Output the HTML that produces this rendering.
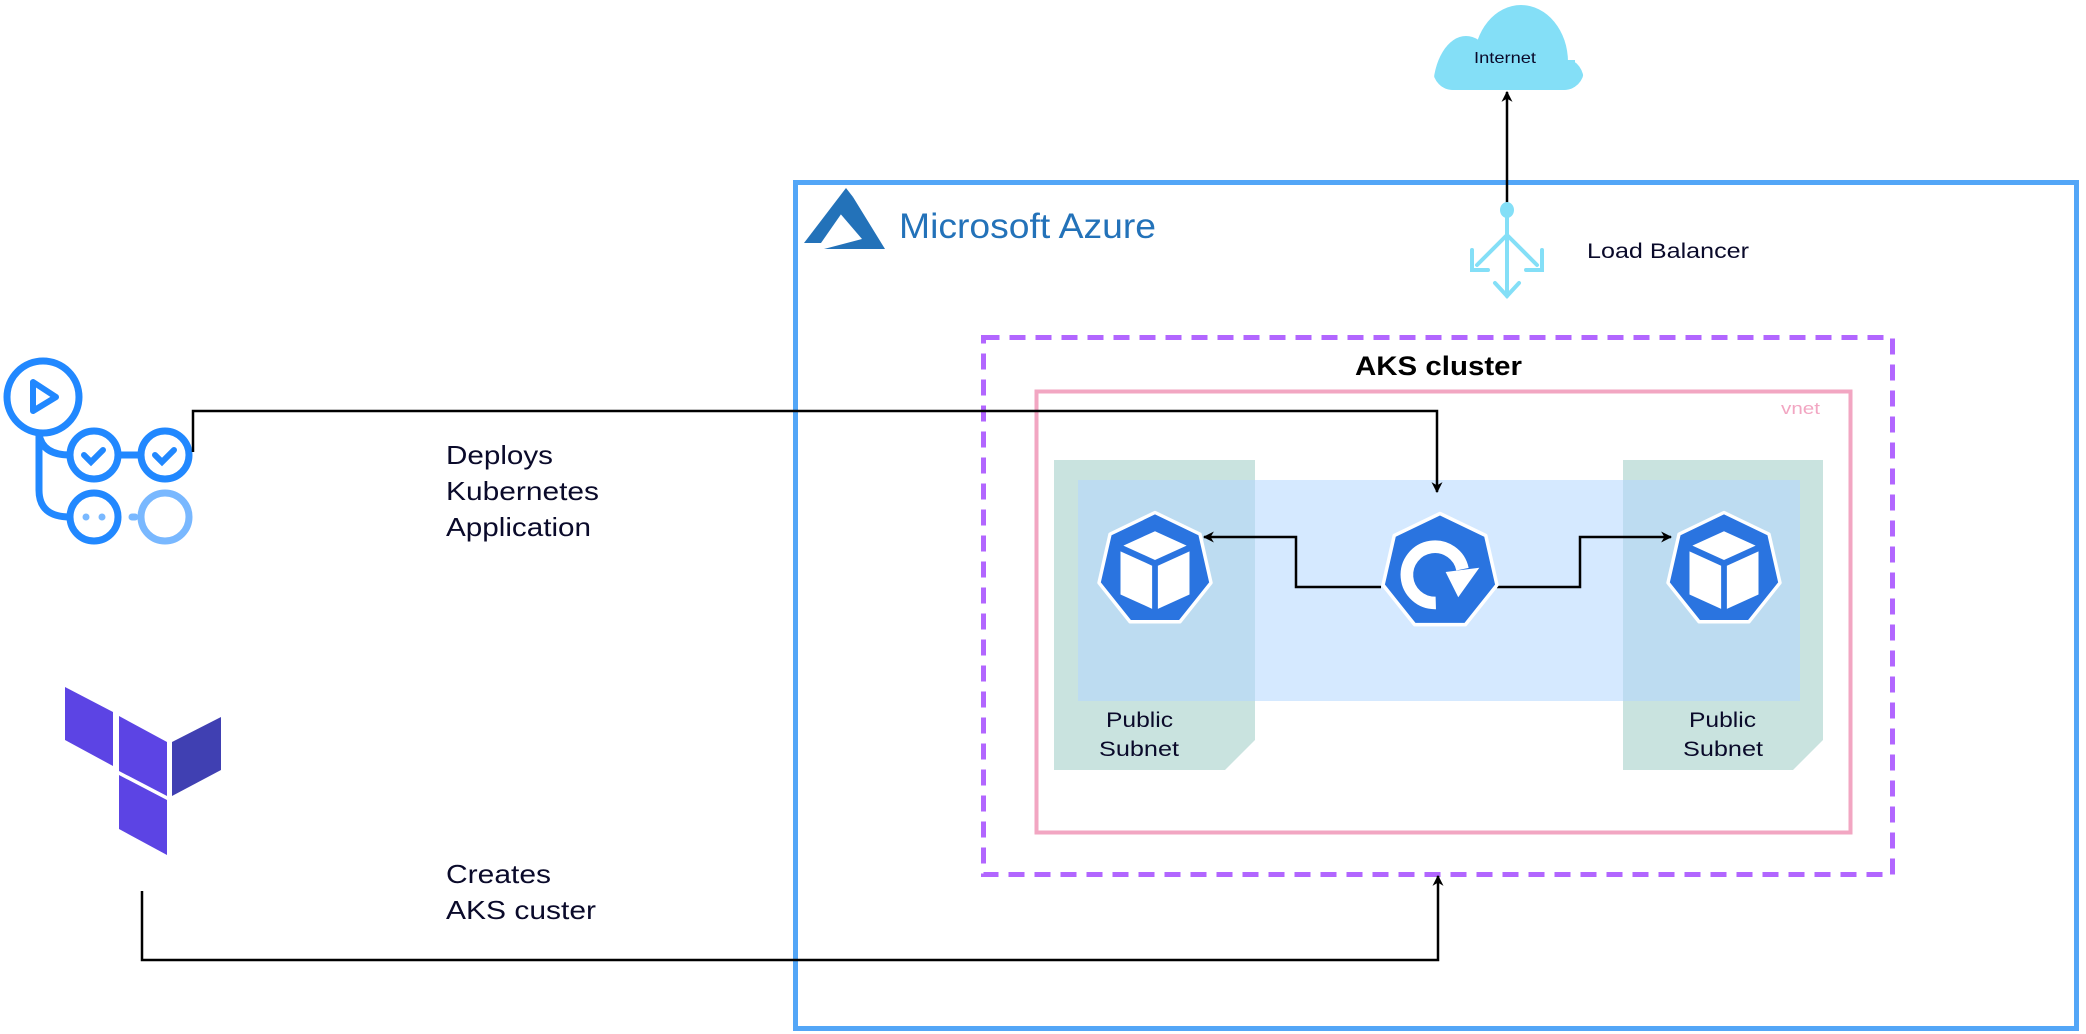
<!DOCTYPE html>
<html><head><meta charset="utf-8"><style>
html,body{margin:0;padding:0;background:#fff;}
svg{display:block;}
text{font-family:"Liberation Sans",sans-serif;}
</style></head><body>
<svg width="2086" height="1034" viewBox="0 0 2086 1034" xmlns="http://www.w3.org/2000/svg">
<defs>
<marker id="ah" viewBox="0 0 10 10" refX="9" refY="5" markerWidth="11" markerHeight="11" markerUnits="userSpaceOnUse" orient="auto">
<path d="M0,0 L10,5 L0,10 L3,5 z" fill="#000"/>
</marker>
<clipPath id="cc"><rect x="1433" y="-30" width="151" height="120" rx="20"/></clipPath>
</defs>

<!-- Azure box -->
<rect x="795.5" y="182.5" width="1281" height="846" fill="none" stroke="#53a6f7" stroke-width="5"/>
<!-- Azure logo -->
<polygon points="846,188 804,243 821,243 853,197" fill="#2372b9"/>
<polygon points="853,197 885,249 824,249 862,239 838,211" fill="#2372b9"/>
<text x="899" y="238" font-size="35" fill="#2372b9" textLength="257" lengthAdjust="spacingAndGlyphs">Microsoft Azure</text>

<!-- Cloud -->
<g fill="#84dff7" clip-path="url(#cc)">
<ellipse cx="1521" cy="62" rx="47" ry="57"/>
<ellipse cx="1466" cy="90" rx="33" ry="54"/>
<ellipse cx="1568" cy="82" rx="16" ry="22"/>
<rect x="1440" y="60" width="135" height="30"/>
</g>
<text x="1474" y="63" font-size="16" fill="#0a0a2a" textLength="62" lengthAdjust="spacingAndGlyphs">Internet</text>

<!-- LB to internet -->
<line x1="1507" y1="209" x2="1507" y2="92" stroke="#000" stroke-width="2.5" marker-end="url(#ah)"/>
<!-- Load balancer icon -->
<g stroke="#84dff7" stroke-width="4" fill="none" stroke-linecap="round">
<line x1="1507" y1="210" x2="1507" y2="296"/>
<line x1="1507" y1="235" x2="1477" y2="265"/>
<line x1="1507" y1="235" x2="1537" y2="265"/>
<polyline points="1472,250 1472,270 1488,270"/>
<polyline points="1542,250 1542,270 1526,270"/>
<polyline points="1495,283 1507,296 1519,283"/>
</g>
<ellipse cx="1507" cy="210" rx="7" ry="8" fill="#84dff7"/>
<text x="1587" y="258" font-size="21" fill="#0a0a2a" textLength="162" lengthAdjust="spacingAndGlyphs">Load Balancer</text>

<!-- AKS dashed -->
<rect x="983.5" y="337.5" width="909" height="537" fill="none" stroke="#b266ff" stroke-width="5" stroke-dasharray="16,10"/>
<text x="1355" y="375" font-size="27" font-weight="bold" fill="#000" textLength="167" lengthAdjust="spacingAndGlyphs">AKS cluster</text>

<!-- vnet -->
<rect x="1036.5" y="391.5" width="814" height="441" fill="none" stroke="#f2a6c2" stroke-width="4"/>
<text x="1781" y="414" font-size="17" fill="#f2a6c2" textLength="39" lengthAdjust="spacingAndGlyphs">vnet</text>

<!-- subnets -->
<polygon points="1054,460 1255,460 1255,740 1225,770 1054,770" fill="#c9e3df"/>
<polygon points="1623,460 1823,460 1823,740 1793,770 1623,770" fill="#c9e3df"/>
<rect x="1078" y="480" width="722" height="221" fill="#b3d7ff" fill-opacity="0.55"/>

<text x="1106" y="727" font-size="21" fill="#0a0a2a" textLength="67" lengthAdjust="spacingAndGlyphs">Public</text>
<text x="1099" y="756" font-size="21" fill="#0a0a2a" textLength="80" lengthAdjust="spacingAndGlyphs">Subnet</text>
<text x="1689" y="727" font-size="21" fill="#0a0a2a" textLength="67" lengthAdjust="spacingAndGlyphs">Public</text>
<text x="1683" y="756" font-size="21" fill="#0a0a2a" textLength="80" lengthAdjust="spacingAndGlyphs">Subnet</text>

<!-- connectors inside -->
<polyline points="1381,587 1296,587 1296,537 1204,537" fill="none" stroke="#000" stroke-width="2.5" marker-end="url(#ah)"/>
<polyline points="1497,587 1580,587 1580,537 1671,537" fill="none" stroke="#000" stroke-width="2.5" marker-end="url(#ah)"/>

<!-- pods -->
<g transform="translate(1155,570) scale(1.15)">
<polygon points="0,-50 39.1,-31.2 48.7,11.1 21.7,45 -21.7,45 -48.7,11.1 -39.1,-31.2" fill="#2a74e0" stroke="#fff" stroke-width="3" stroke-linejoin="round"/>
<g transform="scale(1.25) translate(0,-1)">
<polygon points="0,-26 22,-16 0,-6 -22,-16" fill="#fff"/>
<polygon points="-24,-12 -2,-2 -2,28 -24,18" fill="#fff"/>
<polygon points="24,-12 2,-2 2,28 24,18" fill="#fff"/>
</g>
</g>
<g transform="translate(1724,570) scale(1.15)">
<polygon points="0,-50 39.1,-31.2 48.7,11.1 21.7,45 -21.7,45 -48.7,11.1 -39.1,-31.2" fill="#2a74e0" stroke="#fff" stroke-width="3" stroke-linejoin="round"/>
<g transform="scale(1.25) translate(0,-1)">
<polygon points="0,-26 22,-16 0,-6 -22,-16" fill="#fff"/>
<polygon points="-24,-12 -2,-2 -2,28 -24,18" fill="#fff"/>
<polygon points="24,-12 2,-2 2,28 24,18" fill="#fff"/>
</g>
</g>
<g transform="translate(1440,572) scale(1.17)">
<polygon points="0,-50 39.1,-31.2 48.7,11.1 21.7,45 -21.7,45 -48.7,11.1 -39.1,-31.2" fill="#2a74e0" stroke="#fff" stroke-width="3" stroke-linejoin="round"/>
<g transform="scale(1.2)">
<path d="M-3,22 A20,20 0 1 1 16,-2" fill="none" stroke="#fff" stroke-width="9"/>
<polygon points="4,0 28,-3 13,18" fill="#fff"/>
</g>
</g>

<!-- GitHub actions icon -->
<g fill="none" stroke="#2188ff" stroke-width="7" stroke-linecap="round">
<circle cx="43" cy="397" r="36"/>
<path d="M33,382 L33,411 L56,397 Z" stroke-linejoin="round" stroke-width="6"/>
<circle cx="94" cy="455" r="24"/>
<circle cx="165" cy="455" r="24"/>
<path d="M39,434 Q42,455 70,455"/>
<line x1="118" y1="455" x2="141" y2="455"/>
<path d="M39,434 L39,490 Q39,517 70,517"/>
<circle cx="94" cy="517" r="24"/>
<polyline points="84,455 91,462 103,450" stroke-width="6"/>
<polyline points="155,455 162,462 174,450" stroke-width="6"/>
</g>
<circle cx="165" cy="517" r="24" fill="none" stroke="#79b8ff" stroke-width="7"/>
<line x1="132" y1="517" x2="135" y2="517" stroke="#79b8ff" stroke-width="7" stroke-linecap="round"/>
<circle cx="86" cy="517" r="3.5" fill="#79b8ff"/>
<circle cx="102" cy="517" r="3.5" fill="#79b8ff"/>

<!-- Terraform -->
<polygon points="65,687 113,712 113,766 65,740" fill="#5c44e4"/>
<polygon points="119,716 167,742 167,796 119,771" fill="#5c44e4"/>
<polygon points="172,742 221,717 221,770 172,796" fill="#4040b2"/>
<polygon points="119,775 167,800 167,855 119,829" fill="#5c44e4"/>

<!-- deploy connector -->
<polyline points="193,452 193,411 1437,411 1437,492" fill="none" stroke="#000" stroke-width="2.5" marker-end="url(#ah)"/>
<!-- creates connector -->
<polyline points="142,891 142,960 1438,960 1438,876" fill="none" stroke="#000" stroke-width="2.5" marker-end="url(#ah)"/>

<g font-size="26" fill="#0a0a2a">
<text x="446" y="464" textLength="107" lengthAdjust="spacingAndGlyphs">Deploys</text>
<text x="446" y="500" textLength="153" lengthAdjust="spacingAndGlyphs">Kubernetes</text>
<text x="446" y="536" textLength="145" lengthAdjust="spacingAndGlyphs">Application</text>
<text x="446" y="883" textLength="105" lengthAdjust="spacingAndGlyphs">Creates</text>
<text x="446" y="919" textLength="150" lengthAdjust="spacingAndGlyphs">AKS custer</text>
</g>
</svg>
</body></html>
